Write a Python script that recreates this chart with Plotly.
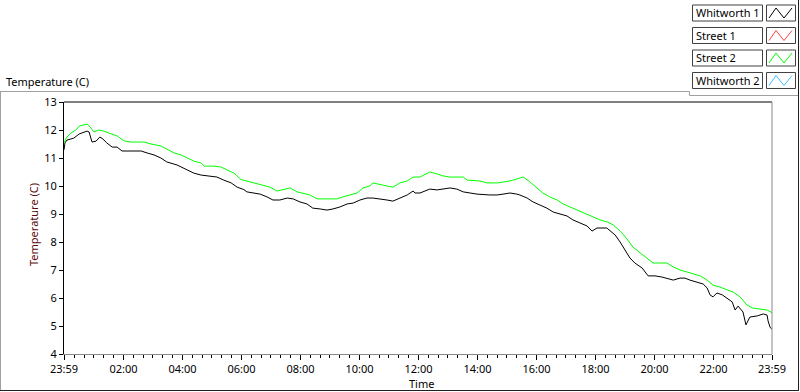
import pandas as pd
import plotly.graph_objects as go

# minutes after the 23:59 start
whit1_min = [0, 2, 6, 20, 31, 37, 47, 51, 57, 65, 73, 79, 87, 98, 108, 118, 128, 142, 157, 169,
             183, 197, 209, 230, 248, 264, 279, 299, 311, 325, 340, 352, 366, 372, 384, 399, 413,
             425, 439, 454, 466, 480, 494, 506, 521, 535, 547, 561, 576, 588, 602, 616, 628, 643,
             657, 669, 683, 698, 710, 714, 724, 744, 759, 771, 785, 799, 812, 826, 840, 866, 881,
             893, 907, 921, 927, 942, 954, 968, 982, 995, 1009, 1023, 1035, 1050, 1064, 1074, 1084,
             1104, 1111, 1121, 1131, 1141, 1151, 1161, 1176, 1188, 1202, 1216, 1228, 1239, 1253,
             1263, 1273, 1287, 1300, 1308, 1314, 1320, 1328, 1339, 1349, 1359, 1365, 1371, 1381,
             1387, 1395, 1410, 1422, 1430, 1432, 1436, 1440]
whit1_val = [11.29, 11.54, 11.64, 11.71, 11.86, 11.9, 11.96, 11.93, 11.57, 11.6, 11.75, 11.68, 11.54,
             11.39, 11.39, 11.25, 11.25, 11.25, 11.25, 11.18, 11.11, 11.0, 10.86, 10.75, 10.61,
             10.46, 10.39, 10.36, 10.32, 10.21, 10.11, 9.96, 9.87, 9.79, 9.75, 9.71, 9.61, 9.5,
             9.5, 9.57, 9.54, 9.43, 9.36, 9.21, 9.18, 9.14, 9.18, 9.25, 9.36, 9.39, 9.5, 9.57,
             9.57, 9.54, 9.5, 9.46, 9.57, 9.68, 9.82, 9.75, 9.75, 9.89, 9.86, 9.89, 9.93, 9.89,
             9.79, 9.75, 9.71, 9.68, 9.68, 9.71, 9.75, 9.71, 9.68, 9.57, 9.43, 9.32, 9.21, 9.07,
             9.0, 8.93, 8.79, 8.68, 8.57, 8.39, 8.5, 8.5, 8.39, 8.25, 8.0, 7.71, 7.43, 7.25, 7.07,
             6.79, 6.79, 6.75, 6.68, 6.64, 6.71, 6.71, 6.64, 6.57, 6.5, 6.36, 6.11, 6.04, 6.18,
             6.11, 6.0, 5.86, 5.57, 5.71, 5.5, 5.04, 5.32, 5.36, 5.43, 5.39, 5.18, 4.96, 4.88]

street2_min = [0, 6, 14, 24, 31, 41, 47, 53, 61, 71, 81, 96, 108, 122, 136, 163, 177, 197, 209, 224,
               238, 250, 264, 279, 285, 305, 319, 332, 346, 360, 372, 384, 405, 419, 433, 445, 460,
               474, 486, 500, 515, 555, 567, 582, 596, 608, 622, 628, 643, 657, 669, 683, 698, 710,
               724, 744, 759, 771, 785, 812, 820, 846, 860, 881, 893, 907, 921, 934, 948, 962, 974,
               988, 1003, 1015, 1029, 1043, 1056, 1070, 1090, 1106, 1117, 1131, 1145, 1157, 1172,
               1186, 1198, 1226, 1239, 1253, 1267, 1279, 1294, 1308, 1320, 1334, 1349, 1361, 1375,
               1389, 1401, 1430, 1438, 1440]
street2_val = [11.54, 11.75, 11.89, 12.0, 12.14, 12.18, 12.21, 12.11, 11.93, 12.0, 11.96, 11.86, 11.79,
               11.61, 11.57, 11.57, 11.5, 11.43, 11.32, 11.18, 11.11, 11.0, 10.89, 10.82, 10.71,
               10.71, 10.68, 10.57, 10.46, 10.23, 10.18, 10.11, 10.04, 9.96, 9.82, 9.86, 9.93,
               9.79, 9.75, 9.68, 9.54, 9.54, 9.61, 9.68, 9.75, 9.93, 10.0, 10.11, 10.04, 10.0,
               9.96, 10.11, 10.18, 10.32, 10.32, 10.5, 10.43, 10.36, 10.32, 10.32, 10.21, 10.18,
               10.11, 10.11, 10.14, 10.18, 10.25, 10.32, 10.14, 9.93, 9.75, 9.61, 9.5, 9.36, 9.25,
               9.14, 9.04, 8.93, 8.79, 8.71, 8.61, 8.39, 8.11, 7.82, 7.61, 7.43, 7.25, 7.25, 7.11,
               7.0, 6.93, 6.86, 6.79, 6.64, 6.46, 6.39, 6.29, 6.21, 6.04, 5.75, 5.64, 5.57, 5.5, 5.46]

series_names = ["Whitworth 1", "Street 1", "Street 2", "Whitworth 2"]
series_colors = ["#000000", "#ff4040", "#00ff00", "#40c0ff"]
tick_labels = ["23:59", "02:00", "04:00", "06:00", "08:00", "10:00", "12:00",
               "14:00", "16:00", "18:00", "20:00", "22:00", "23:59"]
y_ticks = [4, 5, 6, 7, 8, 9, 10, 11, 12, 13]

start = pd.Timestamp("2020-01-01 23:59")
end = pd.Timestamp("2020-01-02 23:59")
day = pd.Timestamp("2020-01-02")
tick_vals = [start] + [day + pd.Timedelta(hours=int(t[:2])) for t in tick_labels[1:-1]] + [end]

x1 = start + pd.to_timedelta(whit1_min, unit="m")
x2 = start + pd.to_timedelta(street2_min, unit="m")

FONT = "Noto Sans"
FS = 11
fig = go.Figure()
fig.add_trace(go.Scatter(x=x1, y=whit1_val, mode="lines", name=series_names[0],
                         line=dict(color=series_colors[0], width=1)))
fig.add_trace(go.Scatter(x=x2, y=street2_val, mode="lines", name=series_names[2],
                         line=dict(color=series_colors[2], width=1)))

L, R, T, B = 64, 28, 102, 38
fig.update_layout(
    width=800, height=392,
    margin=dict(l=L, r=R, t=T, b=B),
    paper_bgcolor="white", plot_bgcolor="white",
    showlegend=False,
    font=dict(family=FONT, size=FS, color="black"),
)
fig.update_xaxes(
    type="date", range=[start, end],
    tickmode="array", tickvals=tick_vals, ticktext=tick_labels,
    showgrid=False, zeroline=False,
    showline=True, linecolor="#8a8a8a", linewidth=1,
    ticks="outside", ticklen=5, tickcolor="black", tickwidth=1,
    minor=dict(ticks="outside", ticklen=3, tickcolor="black", tickwidth=1,
               dtick=20 * 60 * 1000, tick0="2020-01-02 00:00", showgrid=False),
    tickfont=dict(size=FS, color="black"),
)
fig.update_yaxes(
    range=[4, 13], tickmode="array", tickvals=y_ticks,
    showgrid=False, zeroline=False,
    showline=True, linecolor="black", linewidth=1,
    ticks="outside", ticklen=4, tickcolor="black",
    tickfont=dict(size=FS, color="black"),
)

pw, ph = 800 - L - R, 392 - T - B
fx = lambda x: (x - L) / pw
fy = lambda y: (392 - B - y) / ph

shapes = []
# plot frame: top black, right gray
shapes.append(dict(type="line", xref="paper", yref="paper", x0=0, x1=1, y0=1, y1=1,
                   line=dict(color="black", width=1)))
shapes.append(dict(type="line", xref="paper", yref="paper", x0=1, x1=1, y0=0, y1=1,
                   line=dict(color="#8a8a8a", width=1)))

def seg(xa, ya, xb, yb, color):
    shapes.append(dict(type="line", xref="paper", yref="paper",
                       x0=fx(xa), y0=fy(ya), x1=fx(xb), y1=fy(yb),
                       line=dict(color=color, width=1)))

seg(0, 91.5, 689.5, 91.5, "#a0a0a0")
seg(689.5, 91.5, 689.5, 95.5, "#a0a0a0")
seg(689.5, 95.5, 798.5, 95.5, "#a0a0a0")
seg(0.5, 91.5, 0.5, 390.5, "#a0a0a0")
seg(0, 390.5, 799, 390.5, "#202020")
seg(798.5, 0, 798.5, 390.5, "#202020")

annotations = []
row_tops = [5, 27.5, 50, 72.5]
for i, (name, col) in enumerate(zip(series_names, series_colors)):
    t = row_tops[i]
    b = t + 16
    shapes.append(dict(type="rect", xref="paper", yref="paper",
                       x0=fx(692.5), x1=fx(762.5), y0=fy(b), y1=fy(t),
                       line=dict(color="#404040", width=1), fillcolor="white"))
    shapes.append(dict(type="rect", xref="paper", yref="paper",
                       x0=fx(766.5), x1=fx(795.5), y0=fy(b), y1=fy(t),
                       line=dict(color="#404040", width=1), fillcolor="white"))
    pts = [(769, b - 3), (776, t + 3), (784, b - 3), (792, t + 3)]
    path = "M " + " L ".join(f"{fx(x)},{fy(y)}" for x, y in pts)
    shapes.append(dict(type="path", xref="paper", yref="paper", path=path,
                       line=dict(color=col, width=1)))
    annotations.append(dict(text=name, xref="paper", yref="paper",
                            x=fx(694), y=fy((t + b) / 2), xanchor="left", yanchor="middle",
                            showarrow=False, font=dict(size=FS, color="black")))

annotations.append(dict(text="Temperature (C)", xref="paper", yref="paper",
                        x=fx(4), y=fy(81), xanchor="left", yanchor="middle",
                        showarrow=False, font=dict(size=FS, color="black")))
annotations.append(dict(text="Time", xref="paper", yref="paper",
                        x=fx(421), y=fy(383), xanchor="center", yanchor="middle",
                        showarrow=False, font=dict(size=FS, color="black")))
annotations.append(dict(text="Temperature (C)", xref="paper", yref="paper",
                        x=fx(33), y=fy(225), xanchor="center", yanchor="middle",
                        textangle=-90, showarrow=False,
                        font=dict(size=FS, color="#5a0a0a")))

fig.update_layout(shapes=shapes, annotations=annotations)
fig.write_html("out.html", config={"displayModeBar": False},
               post_script="document.body.style.margin='0';document.body.style.padding='0';")
